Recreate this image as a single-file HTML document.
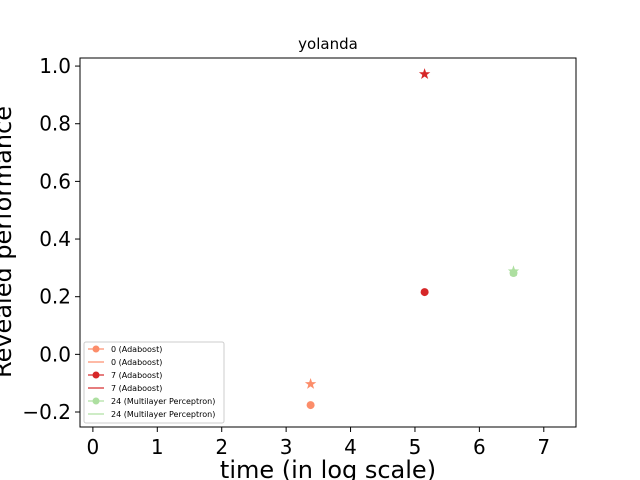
<!DOCTYPE html>
<html><head><meta charset="utf-8"><style>body{margin:0;background:#fff}svg{display:block;font-family:"DejaVu Sans","Liberation Sans",sans-serif}</style></head>
<body>
<svg id="c" width="640" height="480">
<rect x="0" y="0" width="640" height="480" fill="#fff"/>
</svg>
<script>
const xTicks=[0,1,2,3,4,5,6,7];
const yTicks=[-0.2,0,0.2,0.4,0.6,0.8,1.0];
const yTickLabels=["\u22120.2","0.0","0.2","0.4","0.6","0.8","1.0"];
const seriesNames=["0 (Adaboost)","7 (Adaboost)","24 (Multilayer Perceptron)"];
const seriesColors=["#fc8d6a","#d62728","#addfa0"];
const circleX=[3.38,5.15,6.53];
const circleY=[-0.176,0.216,0.282];
const starX=[3.38,5.15,6.53];
const starY=[-0.103,0.972,0.288];
const L=80,R=576,T=58,B=427,x0=-0.2,x1=7.5,y0=-0.252,y1=1.028;
const sx=v=>L+(v-x0)/(x1-x0)*(R-L), sy=v=>B-(v-y0)/(y1-y0)*(B-T);
const svg=document.getElementById('c');const NS='http://www.w3.org/2000/svg';
function mk(t,a,p){const e=document.createElementNS(NS,t);for(const k in a)e.setAttribute(k,a[k]);(p||svg).appendChild(e);return e;}
function txt(s,a,p){const e=mk('text',a,p);e.textContent=s;return e;}
xTicks.forEach(v=>{const g=mk('g',{});


mk('line',{x1:sx(v),x2:sx(v),y1:B,y2:B+5,stroke:'#000'},g);
txt(String(v),{x:sx(v),y:B+27,'font-size':20,'text-anchor':'middle'},g);});
yTicks.forEach((v,i)=>{const g=mk('g',{});


mk('line',{x1:L-5,x2:L,y1:sy(v),y2:sy(v),stroke:'#000'},g);
txt(yTickLabels[i],{x:L-9,y:sy(v)+7,'font-size':20,'text-anchor':'end'},g);});
function star(cx,cy,r,col){let p=[];for(let i=0;i<10;i++){const a=-Math.PI/2+i*Math.PI/5,rr=i%2?r*0.4:r;p.push((cx+rr*Math.cos(a)).toFixed(1)+','+(cy+rr*Math.sin(a)).toFixed(1));}return mk('polygon',{points:p.join(' '),fill:col});}
circleX.forEach((v,i)=>{const c=mk('circle',{cx:sx(v),cy:sy(circleY[i]),r:4,fill:seriesColors[i]});

});
starX.forEach((v,i)=>{const s=star(sx(v),sy(starY[i]),6,seriesColors[i]);

});
const fr=mk('rect',{x:L,y:T,width:R-L,height:B-T,fill:'none',stroke:'#000'});


const t=txt('yolanda',{x:(L+R)/2,y:49,'font-size':15,'text-anchor':'middle'});


const xt=txt('time (in log scale)',{x:(L+R)/2,y:478,'font-size':24,'text-anchor':'middle'});


const yt=txt('Revealed performance',{x:0,y:0,'font-size':24,'text-anchor':'middle',transform:'translate(11,242) rotate(-90)'});


const lg=mk('g',{});


mk('rect',{x:84,y:342,width:140,height:81,fill:'#fff',stroke:'#ccc',rx:2},lg);
seriesNames.forEach((n,i)=>{[0,1].forEach(j=>{const y=349+(2*i+j)*13;
const e=mk('g',{},lg);


mk('line',{x1:88,x2:104,y1:y,y2:y,stroke:seriesColors[i],'stroke-width':1.2},e);
if(j==0)mk('circle',{cx:96,cy:y,r:3.5,fill:seriesColors[i]},e);
txt(n,{x:111,y:y+3,'font-size':8},e);});});
</script>
</body></html>
